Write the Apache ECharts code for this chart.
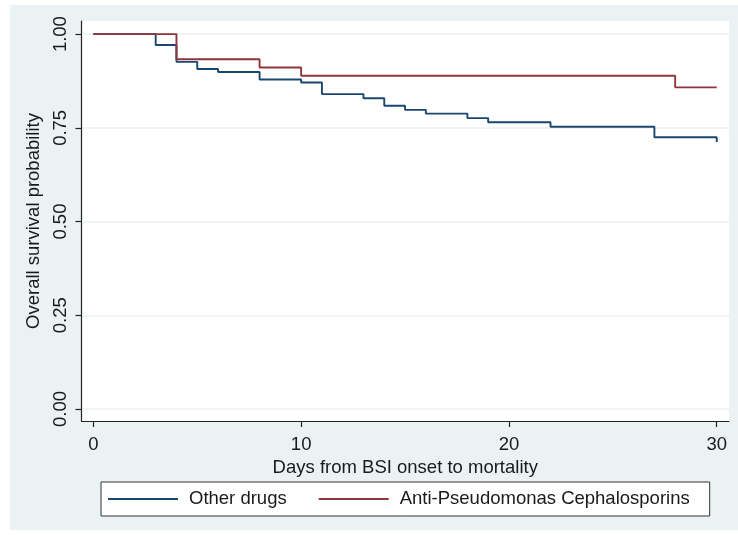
<!DOCTYPE html>
<html>
<head>
<meta charset="utf-8">
<script src="https://cdn.jsdelivr.net/npm/echarts@6/dist/echarts.min.js"></script>
<style>
html,body{margin:0;padding:0;background:#ffffff;}
#chart{position:absolute;left:10px;top:5px;width:728px;height:525px;}
</style>
</head>
<body>
<div id="chart"></div>
<script>
// Data (Kaplan-Meier step points: [day, survival])
var otherDays     = [0, 3, 4, 5, 6, 8, 10, 11, 13, 14, 15, 16, 18, 19, 22, 27, 30];
var otherSurv     = [1.0, 0.971, 0.926, 0.907, 0.899, 0.879, 0.871, 0.840, 0.829, 0.809, 0.798, 0.788, 0.776, 0.765, 0.753, 0.725, 0.712];
var cephDays      = [0, 4, 8, 10, 28, 30];
var cephSurv      = [1.0, 0.933, 0.911, 0.889, 0.858, 0.858];
var xTicks        = [0, 10, 20, 30];
var yTicks        = [0, 0.25, 0.5, 0.75, 1.0];
var seriesNames   = ['Other drugs', 'Anti-Pseudomonas Cephalosporins'];

function pairs(xs, ys){ return xs.map(function(x,i){ return [x, ys[i]]; }); }

var FONT = '"Liberation Sans", Arial, sans-serif';
var FS = 18.5;
var TXT = '#1a1a1a';
var chart = echarts.init(document.getElementById('chart'));
chart.setOption({
  animation: false,
  backgroundColor: '#eaf2f3',
  textStyle: { fontFamily: FONT },
  grid: {
    left: 71.5, top: 16, right: 9, bottom: 109,
    show: true, backgroundColor: '#ffffff', borderWidth: 0
  },
  xAxis: {
    type: 'value', min: -0.57, max: 30.59,
    name: 'Days from BSI onset to mortality', nameLocation: 'middle', nameGap: 31,
    nameTextStyle: { fontSize: FS, color: TXT, fontFamily: FONT },
    axisLine: { show: true, onZero: false, lineStyle: { color: '#222', width: 1.2 } },
    axisTick: { show: true, length: 6, customValues: xTicks, lineStyle: { color: '#222', width: 1.2 } },
    axisLabel: { customValues: xTicks, fontSize: FS, color: TXT, margin: 14, fontFamily: FONT },
    splitLine: { show: false }
  },
  yAxis: {
    type: 'value', min: -0.032, max: 1.035,
    name: 'Overall survival probability', nameLocation: 'middle', nameGap: 38, nameRotate: 90,
    nameTextStyle: { fontSize: FS, color: TXT, fontFamily: FONT },
    axisLine: { show: true, onZero: false, lineStyle: { color: '#222', width: 1.2 } },
    axisTick: { show: true, length: 6, customValues: yTicks, lineStyle: { color: '#222', width: 1.2 } },
    axisLabel: { customValues: yTicks, rotate: 90, fontSize: FS, color: TXT, margin: 11, fontFamily: FONT,
      formatter: function(v){ return v.toFixed(2); } },
    splitLine: { show: true, lineStyle: { color: '#eaf2f3', width: 1.5 } }
  },
  legend: {
    left: 91, top: 477,
    data: seriesNames,
    icon: 'rect', itemWidth: 70, itemHeight: 2, itemGap: 32,
    padding: [7.5, 20, 7.5, 7],
    backgroundColor: '#ffffff', borderColor: '#333', borderWidth: 1,
    textStyle: { fontSize: FS, color: TXT, fontFamily: FONT, padding: [0, 0, 0, 6] }
  },
  series: [
    { name: seriesNames[0], type: 'line', step: 'end', data: pairs(otherDays, otherSurv),
      showSymbol: false, symbol: 'none', color: '#1a476f', lineStyle: { color: '#1a476f', width: 1.9 } },
    { name: seriesNames[1], type: 'line', step: 'end', data: pairs(cephDays, cephSurv),
      showSymbol: false, symbol: 'none', color: '#90353b', lineStyle: { color: '#90353b', width: 1.9 } }
  ]
});
</script>
</body>
</html>
